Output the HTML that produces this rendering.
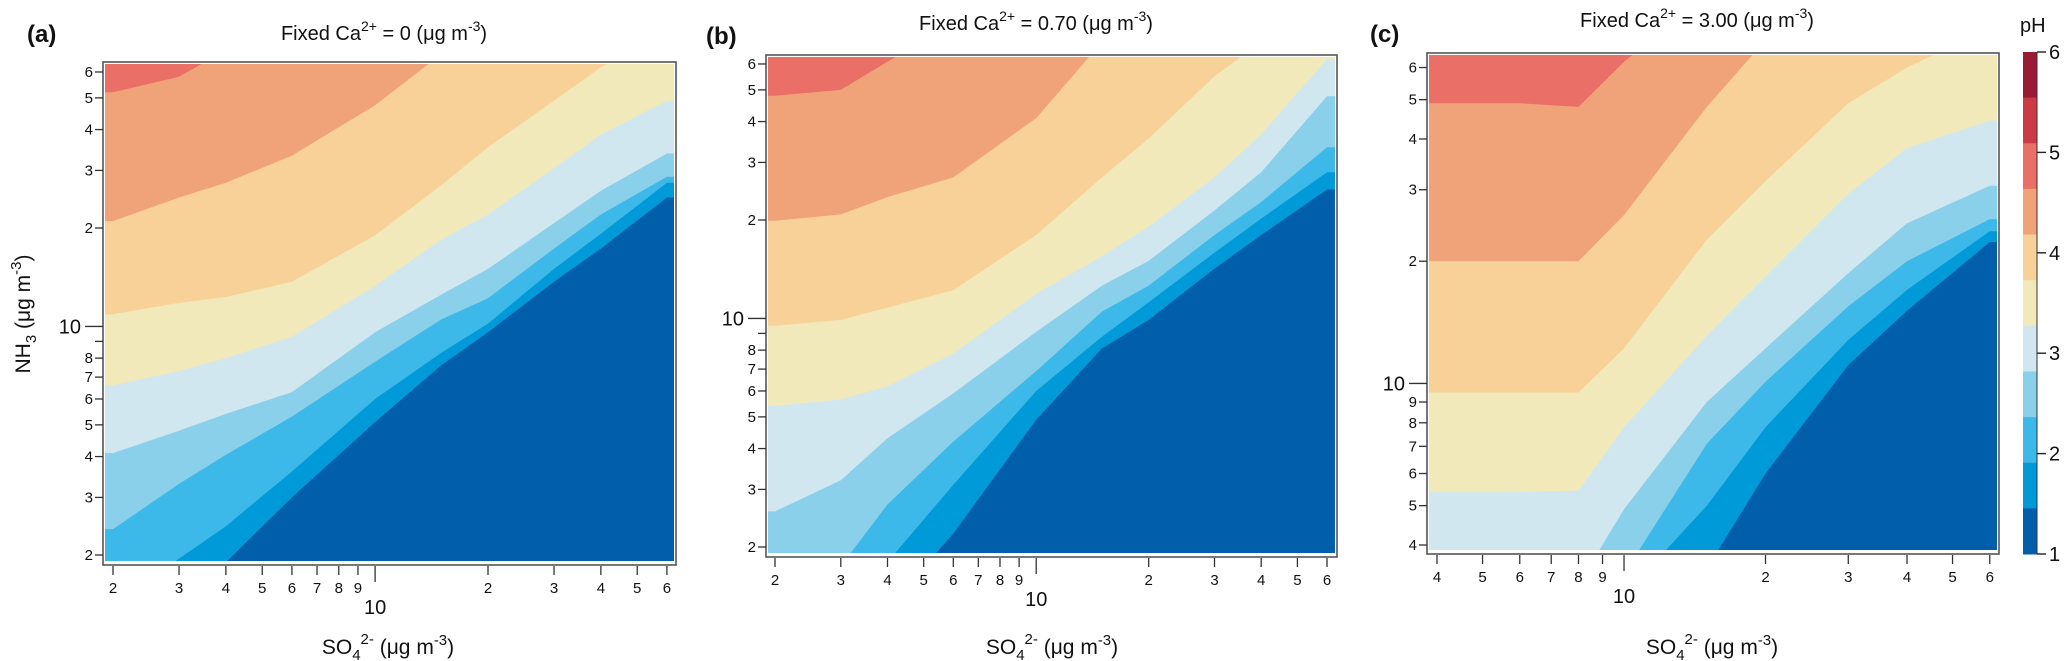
<!DOCTYPE html>
<html><head><meta charset="utf-8">
<style>
html,body{margin:0;padding:0;background:#fff;}
svg{display:block;font-family:"Liberation Sans",Arial,sans-serif;}
</style></head>
<body>
<svg id="fig" width="2067" height="661" viewBox="0 0 2067 661" xmlns="http://www.w3.org/2000/svg"></svg>
<script>
// ---------- data ----------
const xsAB = [2,3,4,6,10,15,20,30,40,60];
const xsC = [4,6,8,10,15,20,30,40,60];
const phLevels = [1.5,2,2.5,3,3.5,4,4.5,5];
const bandColors = ["#005EAB","#009AD9","#3DB9E9","#8BD0EB","#D0E7F0","#F1E9BA","#F7D197","#F0A279","#EA6F66"];
const aBounds = [
 [1.2,1.5,1.9,3.0,5.1,7.6,9.6,13.7,17.3,24.8],
 [1.4,1.95,2.45,3.6,6.0,8.3,10.2,15,19.2,27.5],
 [2.4,3.3,4.05,5.3,7.8,10.5,12.2,17.3,22,28.7],
 [4.1,4.8,5.4,6.3,9.6,12.5,15,20.7,26,33.8],
 [6.6,7.3,8.0,9.3,13.3,18.4,22,30.5,38.6,49],
 [10.9,11.8,12.3,13.7,19,27,35.3,49,62,80],
 [21,24.8,27.5,33.3,47.5,68,90,120,150,200],
 [52,58,70,90,120,150,200,250,300,400]
];
const bBounds = [
 [1.0,1.2,1.3,2.2,4.9,8.1,9.9,14.2,18,24.8],
 [1.1,1.3,1.8,3.1,6,8.8,11.2,15.9,20.2,28],
 [1.3,1.75,2.7,4.2,6.9,10.5,12.6,18,22.7,33.4],
 [2.57,3.2,4.3,5.9,9.1,12.6,15,21.4,28,47.8],
 [5.4,5.65,6.2,7.8,11.9,15.5,19.1,27,36.6,62],
 [9.5,9.9,10.8,12.2,18,27,35.5,55,70,90],
 [19.9,20.8,23.5,27,41,70,90,120,150,200],
 [48,50,61,80,120,150,200,250,300,400]
];
const cBounds = [
 [2,2,2.5,3,3.5,6.0,11.1,15.1,22.3],
 [2,2.5,2.8,3.0,5.0,7.8,12.8,17,23.7],
 [2.5,2.8,3,3.4,7.1,10.1,15.5,20,25.4],
 [2.8,3,3.2,4.9,9,12.2,18.7,24.8,30.7],
 [5.4,5.4,5.45,7.8,13.1,18.3,29.3,38,44.4],
 [9.5,9.5,9.5,12.2,22.6,31.5,49,60,75],
 [20,20,20,26,48,70,100,150,200],
 [49,49,48,62,90,120,150,200,300]
];
const xTicksAB = [2,3,4,5,6,7,8,9,10,20,30,40,50,60];
const xTickLabelsAB = ["2","3","4","5","6","7","8","9","10","2","3","4","5","6"];
const yTicksAB = [2,3,4,5,6,7,8,9,10,20,30,40,50,60];
const yTickLabelsAB = ["2","3","4","5","6","7","8","","10","2","3","4","5","6"];
const xTicksC = [4,5,6,7,8,9,10,20,30,40,50,60];
const xTickLabelsC = ["4","5","6","7","8","9","10","2","3","4","5","6"];
const yTicksC = [4,5,6,7,8,9,10,20,30,40,50,60];
const yTickLabelsC = ["4","5","6","7","8","9","10","2","3","4","5","6"];
const cbarColors = ["#9B1B34","#CC3A45","#EA6F66","#F0A279","#F7D197","#F1E9BA","#D0E7F0","#8BD0EB","#3DB9E9","#009AD9","#005EAB"];
const cbarTicks = [6,5,4,3,2,1];

// ---------- drawing ----------
const NS="http://www.w3.org/2000/svg";
const svg=document.getElementById('fig');
function mk(tag,attrs,parent){const e=document.createElementNS(NS,tag);for(const k in attrs)e.setAttribute(k,attrs[k]);(parent||svg).appendChild(e);return e;}

const panels=[
 {id:'a',xs:xsAB,bounds:aBounds,box:[103,62,676,565],x0:2,px0:113,xs1:375,y0:2,py0:555,ys1:327,
  xt:xTicksAB,xtl:xTickLabelsAB,yt:yTicksAB,ytl:yTickLabelsAB,tval:"=  0 (μg m",tx:384,ty:40,lab:[27,42],xlab:[388,654]},
 {id:'b',xs:xsAB,bounds:bBounds,box:[766,55,1337,557],x0:2,px0:775,xs1:373.7,y0:2,py0:547,ys1:327,
  xt:xTicksAB,xtl:xTickLabelsAB,yt:yTicksAB,ytl:yTickLabelsAB,tval:"= 0.70 (μg m",tx:1036,ty:30,lab:[706,44],xlab:[1052,654]},
 {id:'c',xs:xsC,bounds:cBounds,box:[1427,53,1999,554],x0:4,px0:1437,xs1:470,y0:4,py0:545,ys1:406,
  xt:xTicksC,xtl:xTickLabelsC,yt:yTicksC,ytl:yTickLabelsC,tval:"= 3.00 (μg m",tx:1697,ty:27,lab:[1370,42],xlab:[1712,654]}
];

panels.forEach((p)=>{
 const g=mk('g',{});
 
 
 const xMap=v=>p.px0+(Math.log10(v)-Math.log10(p.x0))*p.xs1;
 const yMap=v=>p.py0-(Math.log10(v)-Math.log10(p.y0))*p.ys1;
 const [L,T,R,B]=p.box;
 const cp=mk('clipPath',{id:'clip'+p.id},g);
 mk('rect',{x:L+2,y:T+2,width:R-L-4,height:B-T-6},cp);
 const area=mk('g',{'clip-path':'url(#clip'+p.id+')'},g);
 
 
 const top=mk('rect',{x:L,y:T,width:R-L,height:B-T,fill:bandColors[8]},area);
 
 
 for(let k=p.bounds.length-1;k>=0;k--){
   const vals=p.bounds[k];
   let pts=[];
   pts.push([L-5,yMap(vals[0])]);
   p.xs.forEach((x,i)=>pts.push([xMap(x),yMap(vals[i])]));
   pts.push([R+5,yMap(vals[vals.length-1])]);
   pts.push([R+5,B+20]);pts.push([L-5,B+20]);
   const poly=mk('polygon',{points:pts.map(q=>q[0].toFixed(1)+','+q[1].toFixed(1)).join(' '),fill:bandColors[k]},area);
   
   
 }
 const frame=mk('rect',{x:L,y:T,width:R-L,height:B-T,fill:'none',stroke:'#555',"stroke-width":1.6},g);
 
 
 p.xt.forEach((v,i)=>{
   const x=xMap(v);const major=(v===10);
   mk('line',{x1:x,y1:B+1,x2:x,y2:B+(major?17:10),stroke:'#333',"stroke-width":1.3},g);
   const t=mk('text',{x:x,y:major?B+49:B+28,"text-anchor":"middle","font-size":major?20:15,fill:'#111'},g);
   t.textContent=p.xtl[i];
   
   
 });
 p.yt.forEach((v,i)=>{
   const y=yMap(v);const major=(v===10);
   mk('line',{x1:L-(major?18:8),y1:y,x2:L,y2:y,stroke:'#333',"stroke-width":1.3},g);
   const t=mk('text',{x:major?L-22:L-10,y:y+(major?7:5),"text-anchor":"end","font-size":major?20:15,fill:'#111'},g);
   t.textContent=p.ytl[i];
   
   
 });
 const tt=mk('text',{x:p.tx,y:p.ty,"text-anchor":"middle","font-size":20,fill:'#111'},g);
 
 
 tt.innerHTML='Fixed Ca<tspan dy="-9" font-size="14">2+</tspan><tspan dy="9"> '+p.tval+'</tspan><tspan dy="-9" font-size="14">-3</tspan><tspan dy="9">)</tspan>';
 const lb=mk('text',{x:p.lab[0],y:p.lab[1],"font-size":24,"font-weight":"bold",fill:'#111'},g);
 lb.textContent='('+p.id+')';
 
 
 const xl=mk('text',{x:p.xlab[0],y:p.xlab[1],"text-anchor":"middle","font-size":21,fill:'#111'},g);
 xl.innerHTML='SO<tspan dy="6" font-size="15">4</tspan><tspan dy="-16" font-size="15">2-</tspan><tspan dy="10"> (μg m</tspan><tspan dy="-9" font-size="15">-3</tspan><tspan dy="9">)</tspan>';
 
 
});

const yl=mk('text',{x:0,y:0,"text-anchor":"middle","font-size":21,fill:'#111',transform:'translate(30,314) rotate(-90)'});
yl.innerHTML='NH<tspan dy="6" font-size="15">3</tspan><tspan dy="-6"> (μg m</tspan><tspan dy="-9" font-size="15">-3</tspan><tspan dy="9">)</tspan>';



const cb=mk('g',{});


const cbTop=52,cbBot=554,cbL=2023,cbW=14;
const segH=(cbBot-cbTop)/cbarColors.length;
cbarColors.forEach((c,i)=>{
  const r=mk('rect',{x:cbL,y:cbTop+i*segH,width:cbW,height:segH+0.5,fill:c},cb);
  
  
});
const phY=v=>cbBot-(v-1)*(cbBot-cbTop)/5;
mk('line',{x1:cbL+cbW,y1:cbTop,x2:cbL+cbW,y2:cbBot,stroke:'#333',"stroke-width":1},cb);
cbarTicks.forEach(v=>{
  const y=phY(v);
  mk('line',{x1:cbL+cbW,y1:y,x2:cbL+cbW+9,y2:y,stroke:'#222',"stroke-width":1.4},cb);
  const t=mk('text',{x:cbL+cbW+12,y:y+7,"font-size":20,fill:'#111'},cb);
  t.textContent=String(v);
  
  
});
const ph=mk('text',{x:2020,y:32,"font-size":20,fill:'#111'},cb);
ph.textContent='pH';


</script>
</body></html>
